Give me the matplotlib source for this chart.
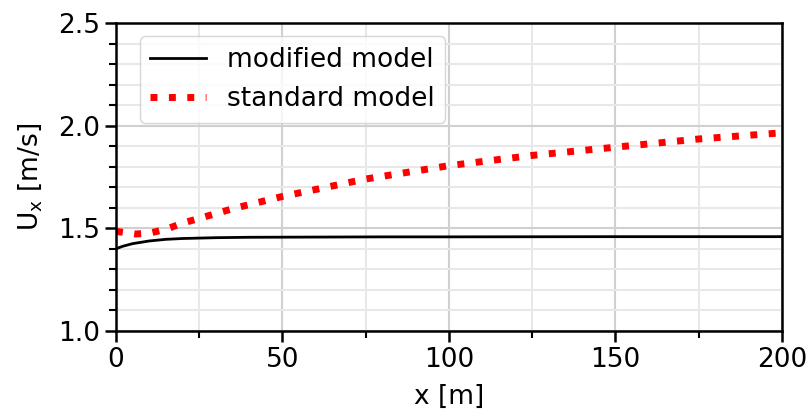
import numpy as np
import matplotlib.pyplot as plt
from matplotlib.ticker import MultipleLocator

# Data
x_mod = [0, 2, 5, 10, 15, 20, 30, 40, 60, 80, 100, 150, 200]
u_mod = [1.40, 1.412, 1.425, 1.438, 1.446, 1.450, 1.454, 1.456, 1.457, 1.458, 1.458, 1.459, 1.459]

x_std = [0, 3, 6, 10, 15, 20, 25, 35, 50, 75, 100, 125, 150, 175, 200]
u_std = [1.485, 1.478, 1.472, 1.476, 1.495, 1.525, 1.548, 1.595, 1.655, 1.74, 1.805, 1.855, 1.895, 1.935, 1.965]

fs = 19

fig, ax = plt.subplots(figsize=(8.11, 4.12), dpi=100)
ax.plot(x_mod, u_mod, color="black", lw=2, label="modified model")
ax.plot(x_std, u_std, color="red", lw=5, ls=":", label="standard model")

ax.set_xlim(0, 200)
ax.set_ylim(1.0, 2.5)
ax.xaxis.set_major_locator(MultipleLocator(50))
ax.xaxis.set_minor_locator(MultipleLocator(25))
ax.yaxis.set_major_locator(MultipleLocator(0.5))
ax.yaxis.set_minor_locator(MultipleLocator(0.1))
ax.grid(which="major", color="#d0d0d0", lw=1.5)
ax.grid(which="minor", color="#e8e8e8", lw=1.5)
for sp in ax.spines.values():
    sp.set_linewidth(1.8)
ax.tick_params(labelsize=fs, length=8, width=1.8)
ax.tick_params(which="minor", length=5, width=1.5)
ax.set_xlabel("x [m]", fontsize=fs, labelpad=8)
ax.set_ylabel(r"U$_\mathregular{x}$ [m/s]", fontsize=fs, labelpad=10)
ax.legend(loc="upper left", bbox_to_anchor=(0.016, 1), fontsize=fs,
          handlelength=2.1, borderaxespad=0.5)

plt.subplots_adjust(left=0.143, right=0.964, top=0.944, bottom=0.197)
plt.savefig("out.png")
